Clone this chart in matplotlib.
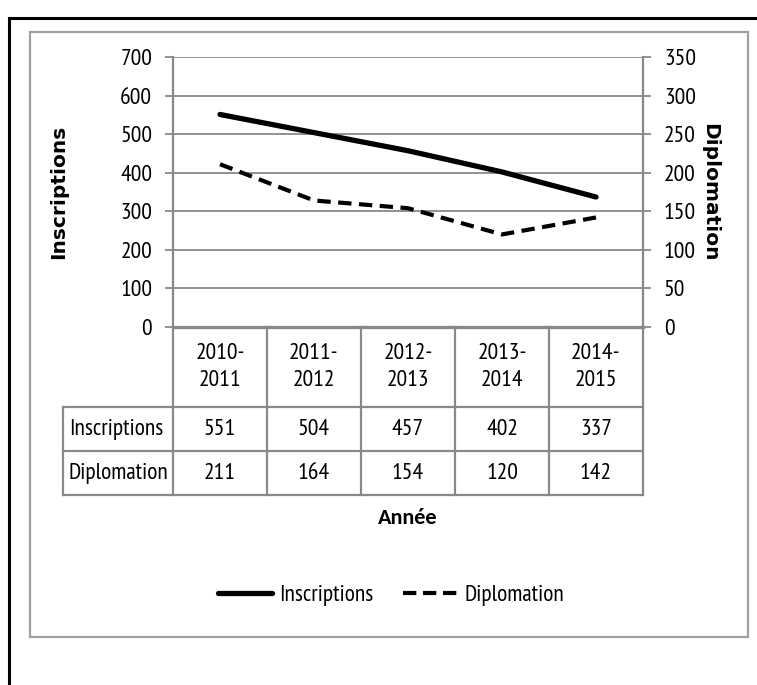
import matplotlib
matplotlib.use("Agg")
import matplotlib.pyplot as plt
from matplotlib.lines import Line2D
from matplotlib.patches import Rectangle
import matplotlib.transforms as mtransforms

# ---- data ----
categories = ["2010-\n2011", "2011-\n2012", "2012-\n2013", "2013-\n2014", "2014-\n2015"]
inscriptions = [551, 504, 457, 402, 337]
diplomation = [211, 164, 154, 120, 142]
series_names = ["Inscriptions", "Diplomation"]
left_ticks = [0, 100, 200, 300, 400, 500, 600, 700]
right_ticks = [0, 50, 100, 150, 200, 250, 300, 350]

W, H = 757, 685
DPI = 100
plt.rcParams['font.family'] = ['PT Sans Narrow', 'Carlito', 'DejaVu Sans']
FS = 17
TFS = 16.8
GRID = "#898989"

fig = plt.figure(figsize=(W / DPI, H / DPI), dpi=DPI)

def fx(px):
    return px / W

def fy(py):
    return 1 - py / H

# outer borders
fig.add_artist(Line2D([fx(9), fx(9)], [fy(18), 0], transform=fig.transFigure, color="black", lw=2.2))
fig.add_artist(Line2D([fx(9), 1], [fy(18), fy(18)], transform=fig.transFigure, color="black", lw=2.2))
fig.add_artist(Rectangle((fx(30), fy(637)), fx(748) - fx(30), fy(32) - fy(637),
                         transform=fig.transFigure, fill=False, ec="#a0a0a0", lw=1.6))

L, R, T, B = 173, 643, 57, 327
ax = fig.add_axes([fx(L), fy(B), fx(R) - fx(L), fy(T) - fy(B)])
ax2 = ax.twinx()

x = list(range(len(categories)))
ax.plot(x, inscriptions, color="black", lw=3.8, solid_capstyle="round", zorder=5)
ax2.plot(x, diplomation, color="black", lw=3.0, dashes=(3.2, 1.8), zorder=5)

ax.set_xlim(-0.5, len(categories) - 0.5)
ax.set_ylim(0, 700)
ax2.set_ylim(0, 350)
ax.set_yticks(left_ticks)
ax2.set_yticks(right_ticks)
ax.set_xticks([])
ax.yaxis.grid(True, color=GRID, lw=1.3)
ax.set_axisbelow(True)

for a in (ax, ax2):
    for s in a.spines.values():
        s.set_visible(False)
    a.tick_params(axis="y", length=6, width=1.3, color=GRID, labelsize=FS, pad=9)
ax.spines["left"].set_visible(True)
ax.spines["left"].set_color(GRID)
ax.spines["left"].set_linewidth(1.6)
ax2.spines["right"].set_visible(True)
ax2.spines["right"].set_color(GRID)
ax2.spines["right"].set_linewidth(1.6)
ax.spines["bottom"].set_visible(True)
ax.spines["bottom"].set_color(GRID)
ax.spines["bottom"].set_linewidth(2.4)

ax.set_ylabel(series_names[0], fontsize=14.5, fontweight="bold", family=["DejaVu Sans"])
ax.yaxis.set_label_coords((68 - L) / (R - L), 0.5)
ax2.set_ylabel(series_names[1], fontsize=14.5, fontweight="bold", family=["DejaVu Sans"], rotation=270, va="center")
ax2.yaxis.set_label_coords((710 - L) / (R - L), 0.5)

# ---- data table below the axis ----
tr = mtransforms.blended_transform_factory(ax.transData, ax.transAxes)
hp = B - T

def ay(py):
    return (B - py) / hp

colw = (R - L) / len(categories)
label_left = -0.5 - (L - 63) / colw
label_text = -0.5 - (L - 69) / colw
y_head, y_r1, y_r2 = ay(407), ay(451), ay(495)
lkw = dict(transform=tr, color=GRID, lw=1.6, clip_on=False)
for i in range(len(categories) + 1):
    ax.add_line(Line2D([i - 0.5, i - 0.5], [0, y_r2], **lkw))
ax.add_line(Line2D([label_left, label_left], [y_head, y_r2], **lkw))
for yy in (y_head, y_r1, y_r2):
    ax.add_line(Line2D([label_left, len(categories) - 0.5], [yy, yy], **lkw))

for i, c in enumerate(categories):
    ax.text(i, ay(367), c, transform=tr, ha="center", va="center", fontsize=FS, linespacing=1.4, clip_on=False)
    ax.text(i, ay(429), str(inscriptions[i]), transform=tr, ha="center", va="center", fontsize=FS, clip_on=False)
    ax.text(i, ay(473), str(diplomation[i]), transform=tr, ha="center", va="center", fontsize=FS, clip_on=False)
ax.text(label_text, ay(429), series_names[0], transform=tr, ha="left", va="center", fontsize=TFS, clip_on=False)
ax.text(label_text, ay(473), series_names[1], transform=tr, ha="left", va="center", fontsize=TFS, clip_on=False)

ax.text(0.5, ay(518), "Année", transform=ax.transAxes, ha="center", va="center",
        fontsize=16, fontweight="bold", family=["Carlito", "DejaVu Sans"], clip_on=False)

# legend
handles = [Line2D([], [], color="black", lw=3.8, solid_capstyle="round"),
           Line2D([], [], color="black", lw=3.0, dashes=(3.2, 1.6))]
fig.legend(handles, series_names, loc="center", bbox_to_anchor=(fx(391), fy(595)), ncol=2,
           frameon=False, fontsize=TFS, handlelength=2.3, handletextpad=0.3, columnspacing=1.3)

fig.savefig("out.png", dpi=DPI, facecolor="white")
